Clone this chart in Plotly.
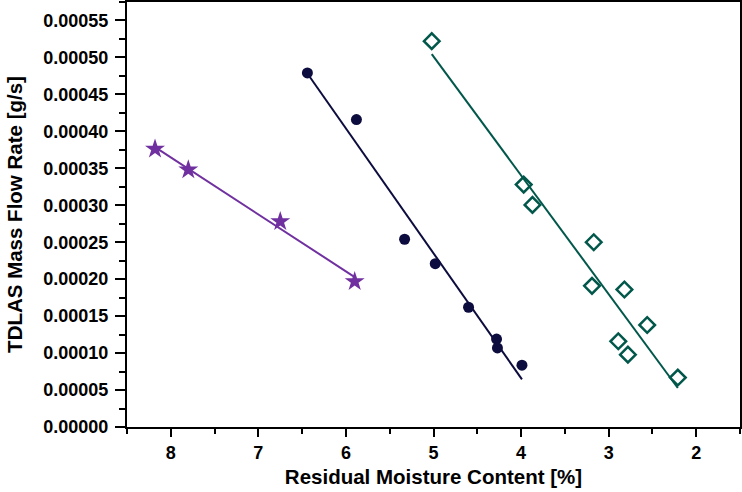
import numpy as np
import plotly.graph_objects as go

# residual moisture [%] vs TDLAS mass flow rate [g/s]
star_x = [8.18, 7.80, 6.75, 5.90]
star_y = [0.000376, 0.000348, 0.000278, 0.000197]

circle_x = [6.44, 5.88, 5.33, 4.98, 4.60, 4.28, 4.27, 3.99]
circle_y = [0.000479, 0.000416, 0.000254, 0.000221, 0.000162, 0.000119, 0.000107, 0.0000836]

diamond_x = [5.02, 3.97, 3.87, 3.17, 3.19, 2.82, 2.56, 2.89, 2.78, 2.21]
diamond_y = [0.000522, 0.000328, 0.0003005, 0.000250, 0.000191, 0.000186, 0.000138, 0.000116, 0.0000979, 0.0000669]

purple = "#7030a0"
navy = "#0c0c3e"
teal = "#00574a"


def fit_line(xs, ys):
    k, d = np.polyfit(xs, ys, 1)
    xx = np.array([min(xs), max(xs)])
    return xx, k * xx + d


fig = go.Figure()

for xs, ys, col in [(star_x, star_y, purple), (circle_x, circle_y, navy), (diamond_x, diamond_y, teal)]:
    lx, ly = fit_line(xs, ys)
    fig.add_trace(go.Scatter(x=lx, y=ly, mode="lines", line=dict(color=col, width=2),
                             showlegend=False, hoverinfo="skip"))

fig.add_trace(go.Scatter(x=star_x, y=star_y, mode="markers",
                         marker=dict(symbol="star", size=15, color=purple, line=dict(width=0)),
                         showlegend=False))
fig.add_trace(go.Scatter(x=circle_x, y=circle_y, mode="markers",
                         marker=dict(symbol="circle", size=11, color=navy, line=dict(width=0)),
                         showlegend=False))
fig.add_trace(go.Scatter(x=diamond_x, y=diamond_y, mode="markers",
                         marker=dict(symbol="diamond-open", size=12, color=teal, line=dict(width=2.5, color=teal)),
                         showlegend=False))

font_bold = "Liberation Sans"
axis_common = dict(
    showgrid=False, zeroline=False, automargin=False,
    showline=True, linecolor="black", linewidth=2, mirror=True,
    ticks="outside", tickwidth=2, tickcolor="black",
    tickfont=dict(family=font_bold, size=18, color="black", weight="bold"),
)

fig.update_xaxes(
    range=[8.5, 1.5], dtick=1, tick0=0, ticklen=8,
    minor=dict(dtick=0.5, tick0=0, ticks="outside", ticklen=5, tickwidth=2, tickcolor="black"),
    title=dict(text="Residual Moisture Content [%]", standoff=8,
               font=dict(family=font_bold, size=20.5, color="black", weight="bold")),
    **axis_common,
)
fig.update_yaxes(
    range=[0, 0.000575], dtick=0.00005, tick0=0, tickformat=".5f", ticklen=10,
    ticklabelstandoff=3,
    minor=dict(dtick=0.000025, tick0=0, ticks="outside", ticklen=6, tickwidth=2, tickcolor="black"),
    title=dict(text="TDLAS Mass Flow Rate [g/s]", standoff=15,
               font=dict(family=font_bold, size=20.5, color="black", weight="bold")),
    **axis_common,
)

fig.update_layout(
    template="none",
    width=742, height=492,
    margin=dict(l=127, r=2, t=2, b=65),
    plot_bgcolor="white", paper_bgcolor="white",
)

# page body has an 8px default margin; drop it so the figure sits at 0,0
fig.write_html("out.html", config={"displayModeBar": False},
               post_script="document.body.style.margin='0';")
